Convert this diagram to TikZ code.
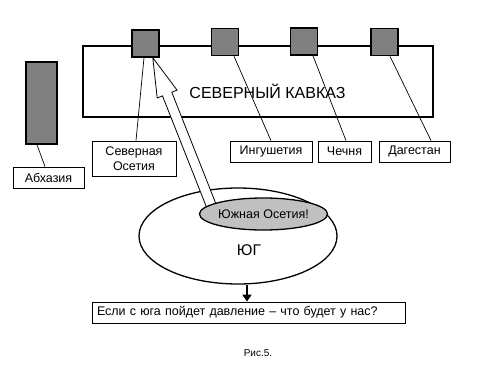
\documentclass[tikz,border=0pt]{standalone}
\usepackage{fontspec}
\setmainfont{Liberation Sans}
\usetikzlibrary{calc,arrows.meta,shapes.geometric}
\definecolor{sqgray}{RGB}{128,128,128}
\definecolor{elgray}{RGB}{192,192,192}
\begin{document}
\begin{tikzpicture}[x=1pt,y=-1pt,
  sqbox/.style={draw,line width=1.6pt,fill=sqgray,minimum width=27pt,minimum height=27pt,inner sep=0pt},
  lbl/.style={draw,line width=0.8pt,fill=white,font=\fontsize{12.5}{14}\selectfont,inner sep=0pt,minimum height=21pt,align=center},
  conn/.style={line width=0.7pt}]
\fill[white] (0,0) rectangle (500,375);
\useasboundingbox (0,0) rectangle (500,375);
% North Caucasus block
\node[draw,line width=1.3pt,minimum width=350pt,minimum height=71pt,inner sep=0pt] (nc) at (258,81.5) {};
\node[font=\fontsize{16}{18}\selectfont,inner sep=0pt] (nct) at (267.5,91) {СЕВЕРНЫЙ КАВКАЗ};
\node[sqbox] (sq1) at (145.5,43.5) {};
\node[sqbox] (sq2) at (225,42) {};
\node[sqbox] (sq3) at (304,41.5) {};
\node[sqbox] (sq4) at (384.5,42) {};
\node[sqbox,minimum width=31pt,minimum height=82pt] (ab) at (41.5,103) {};
% labels
\node[lbl,minimum width=71pt] (abl) at (48.5,177.5) {Абхазия};
\node[lbl,minimum width=84pt,minimum height=35pt,font=\fontsize{12.5}{15}\selectfont] (so) at (134,158.5) {Северная\\Осетия};
\node[lbl,minimum width=82pt] (ing) at (271,151.5) {Ингушетия};
\node[lbl,minimum width=53pt] (che) at (344.5,151.5) {Чечня};
\node[lbl,minimum width=71pt] (dag) at (414.5,151.5) {Дагестан};
% connectors
\draw[conn] ([xshift=-1.5pt]sq1.south) -- ([xshift=2pt]so.north);
\draw[conn] ([xshift=9pt]sq2.south) -- (ing.north);
\draw[conn] ([xshift=9pt]sq3.south) -- ([xshift=1.5pt]che.north);
\draw[conn] ([xshift=5.5pt]sq4.south) -- ([xshift=16.5pt]dag.north);
\draw[conn] ([xshift=-4.5pt]ab.south) -- ([xshift=-3.5pt]abl.north);
% south
\node[draw,ellipse,line width=1.3pt,minimum width=198pt,minimum height=96pt,inner sep=0pt] (yug) at (238,236) {};
% hollow block arrow
\coordinate (tip) at ([xshift=-7pt]sq1.south east);
\coordinate (tail) at (213,210);
\coordinate (H) at ($(tip)!39pt!(tail)$);
\draw[line width=0.8pt,fill=white,line join=miter] (tip) -- ($(H)!10.7pt!90:(tail)$) -- ($(H)!5pt!90:(tail)$)
  -- ($(tail)!5pt!-90:(H)$) -- ($(tail)!5pt!90:(H)$) -- ($(H)!5pt!-90:(tail)$) -- ($(H)!10.7pt!-90:(tail)$) -- cycle;
\node[draw,ellipse,line width=1.3pt,fill=elgray,minimum width=127pt,minimum height=32pt,inner sep=0pt,font=\fontsize{12.5}{14}\selectfont] (yo) at (263.5,214) {Южная Осетия!};
\node[font=\fontsize{15.5}{17}\selectfont,inner sep=0pt] (yugt) at (249,250) {ЮГ};
% question
\node[draw,line width=0.8pt,text width=303pt,inner xsep=5pt,inner ysep=0pt,minimum height=21pt,align=left,font=\fontsize{12.5}{14}\selectfont] (q) at (248.5,312.5) {Если с юга пойдет давление – что будет у нас?};
\draw[line width=1.6pt,-{Triangle[length=7pt,width=9pt]}] ([xshift=-1.5pt]q.north |- yug.south) -- ([xshift=-1.5pt]q.north);
\node[font=\fontsize{10}{12}\selectfont,inner sep=0pt] (cap) at (258,353) {Рис.5.};
\end{tikzpicture}
\end{document}
